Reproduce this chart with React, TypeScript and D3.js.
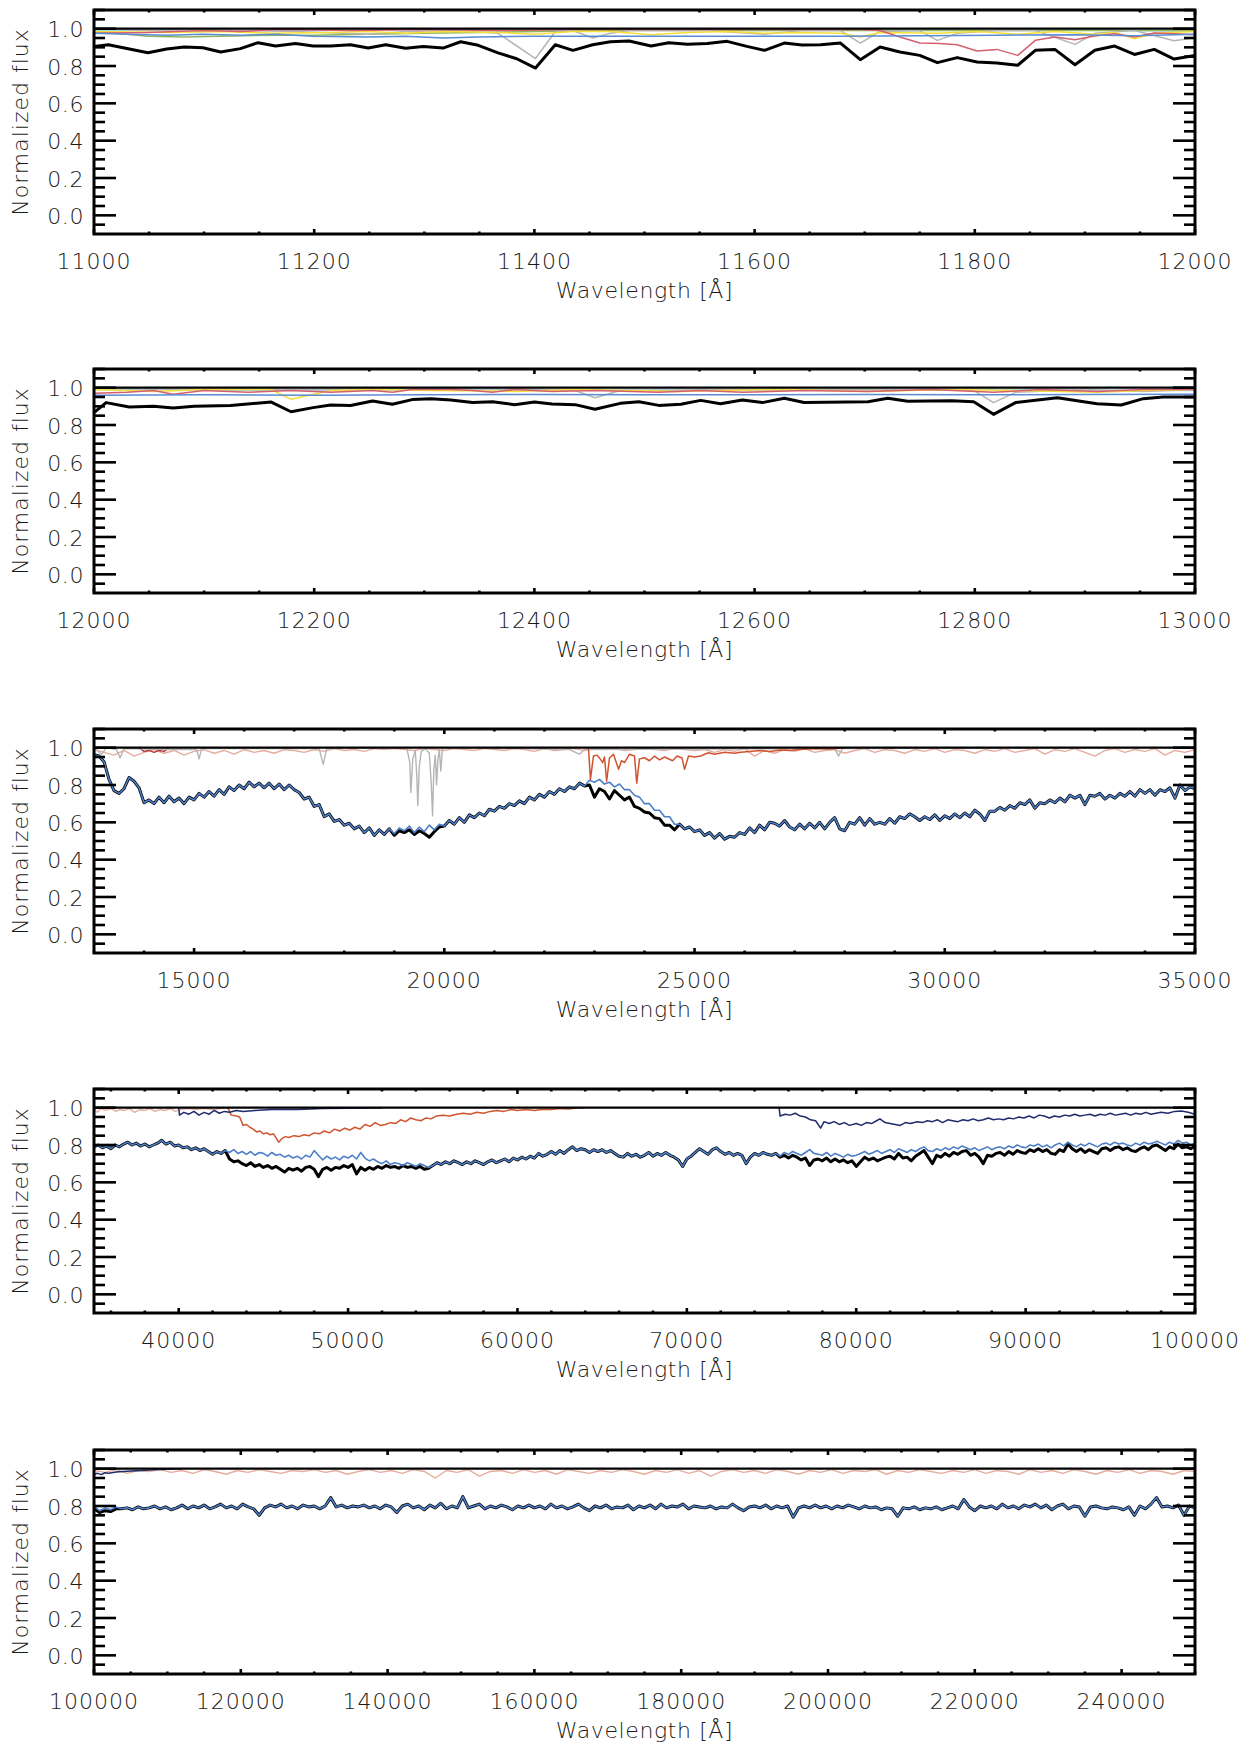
import React from "react";
import * as d3 from "d3";

type Pt = [number, number];

// ---------- panel 1 : 11000 - 12000 A ----------
const p1Black: Pt[] = [
  [11000, 0.905], [11013, 0.914], [11049, 0.871], [11066, 0.891], [11082, 0.902], [11099, 0.898],
  [11115, 0.875], [11133, 0.893], [11149, 0.925], [11165, 0.907], [11183, 0.92], [11199, 0.907],
  [11215, 0.907], [11233, 0.914], [11249, 0.896], [11265, 0.914], [11283, 0.895], [11299, 0.905],
  [11317, 0.896], [11333, 0.93], [11349, 0.911], [11367, 0.87], [11384, 0.839], [11401, 0.789],
  [11419, 0.914], [11435, 0.884], [11453, 0.914], [11469, 0.93], [11486, 0.934], [11506, 0.907],
  [11522, 0.925], [11539, 0.916], [11557, 0.92], [11575, 0.932], [11593, 0.905], [11609, 0.884],
  [11627, 0.923], [11643, 0.913], [11660, 0.914], [11678, 0.923], [11696, 0.834], [11714, 0.902],
  [11732, 0.875], [11750, 0.857], [11766, 0.818], [11784, 0.845], [11802, 0.821], [11820, 0.816],
  [11839, 0.804], [11855, 0.884], [11873, 0.888], [11891, 0.807], [11909, 0.884], [11927, 0.907],
  [11945, 0.862], [11963, 0.889], [11981, 0.837], [12000, 0.857],
];
const p1Gray: Pt[] = [
  [11000, 1.0], [11050, 0.99], [11100, 0.985], [11133, 0.99], [11183, 0.985], [11249, 0.97],
  [11283, 0.985], [11333, 0.99], [11367, 0.975], [11401, 0.84], [11419, 0.985], [11435, 0.99],
  [11453, 0.95], [11469, 0.975], [11486, 0.99], [11557, 0.99], [11609, 0.97], [11643, 0.99],
  [11678, 0.99], [11696, 0.923], [11714, 0.985], [11750, 0.99], [11766, 0.9375], [11784, 0.975],
  [11820, 0.99], [11855, 0.99], [11891, 0.916], [11909, 0.975], [11945, 0.99], [11981, 0.935],
  [12000, 0.952],
];
const p1Yellow: Pt[] = [
  [11000, 0.985], [11066, 0.98], [11115, 0.985], [11165, 0.975], [11215, 0.98], [11249, 0.985],
  [11283, 0.975], [11317, 0.985], [11367, 0.98], [11401, 0.97], [11435, 0.985], [11469, 0.985],
  [11506, 0.968], [11539, 0.98], [11575, 0.985], [11609, 0.975], [11643, 0.98], [11678, 0.975],
  [11696, 0.955], [11714, 0.98], [11766, 0.975], [11802, 0.985], [11839, 0.97], [11873, 0.985],
  [11909, 0.97], [11927, 0.98], [11945, 0.946], [11963, 0.975], [12000, 0.985],
];
const p1Red: Pt[] = [
  [11000, 0.975], [11049, 0.98], [11099, 0.99], [11133, 0.985], [11165, 0.995], [11233, 0.99],
  [11299, 0.995], [11367, 0.99], [11435, 0.995], [11506, 0.995], [11575, 0.995], [11643, 0.995],
  [11696, 0.995], [11714, 0.99], [11732, 0.955], [11750, 0.923], [11768, 0.92], [11784, 0.914],
  [11802, 0.88], [11820, 0.889], [11839, 0.857], [11855, 0.9375], [11873, 0.955], [11891, 0.941],
  [11909, 0.961], [11927, 0.973], [11945, 0.955], [11963, 0.977], [11981, 0.973], [12000, 0.968],
];
const p1Blue: Pt[] = [
  [11000, 0.975], [11030, 0.97], [11066, 0.965], [11099, 0.97], [11133, 0.965], [11165, 0.97],
  [11199, 0.96], [11249, 0.955], [11283, 0.96], [11317, 0.95], [11349, 0.955], [11401, 0.96],
  [11469, 0.96], [11539, 0.96], [11609, 0.96], [11678, 0.96], [11750, 0.962], [11820, 0.965],
  [11891, 0.968], [11945, 0.962], [12000, 0.97],
];
const p1Green: Pt[] = [
  [11000, 0.985], [11020, 0.975], [11049, 0.96], [11082, 0.955], [11115, 0.96], [11165, 0.965],
  [11199, 0.965], [11249, 0.97], [11299, 0.975], [11349, 0.98], [11401, 0.985], [11469, 0.99],
  [11575, 0.99], [11700, 0.99], [11850, 0.99], [12000, 0.99],
];
const p1Cyan: Pt[] = [
  [11000, 0.99], [11100, 0.995], [11200, 0.99], [11300, 0.995], [11400, 0.99], [11500, 0.995],
  [11600, 0.99], [11700, 0.995], [11800, 0.99], [11900, 0.995], [12000, 0.985],
];

// ---------- panel 2 : 12000 - 13000 A ----------
const p2Black: Pt[] = [
  [12000, 0.866], [12011, 0.92], [12032, 0.896], [12054, 0.9], [12072, 0.891], [12091, 0.9],
  [12124, 0.905], [12161, 0.923], [12179, 0.871], [12199, 0.893], [12215, 0.907], [12233, 0.904],
  [12253, 0.929], [12271, 0.911], [12289, 0.936], [12306, 0.941], [12324, 0.934], [12344, 0.92],
  [12362, 0.925], [12382, 0.909], [12400, 0.923], [12416, 0.913], [12437, 0.909], [12455, 0.884],
  [12478, 0.916], [12495, 0.925], [12513, 0.905], [12533, 0.911], [12551, 0.932], [12569, 0.914],
  [12589, 0.934], [12607, 0.92], [12627, 0.943], [12645, 0.921], [12703, 0.925], [12721, 0.943],
  [12739, 0.927], [12779, 0.93], [12799, 0.925], [12817, 0.857], [12837, 0.92], [12875, 0.946],
  [12911, 0.914], [12933, 0.907], [12953, 0.941], [12971, 0.95], [13000, 0.95],
];
const p2Red: Pt[] = [
  [12000, 0.97], [12030, 0.975], [12054, 0.985], [12072, 0.965], [12100, 0.985], [12140, 0.975],
  [12179, 0.985], [12215, 0.975], [12253, 0.985], [12271, 0.975], [12289, 0.99], [12324, 0.99],
  [12344, 0.985], [12362, 0.975], [12382, 0.99], [12416, 0.98], [12455, 0.985], [12513, 0.975],
  [12551, 0.985], [12589, 0.975], [12645, 0.985], [12703, 0.98], [12760, 0.99], [12817, 0.975],
  [12860, 0.99], [12911, 0.98], [12953, 0.99], [13000, 0.99],
];
const p2Yellow: Pt[] = [
  [12000, 0.99], [12054, 0.98], [12100, 0.99], [12161, 0.99], [12179, 0.9375], [12215, 0.985],
  [12253, 0.99], [12306, 0.985], [12382, 0.98], [12437, 0.99], [12533, 0.98], [12569, 0.985],
  [12627, 0.99], [12703, 0.98], [12779, 0.99], [12837, 0.985], [12911, 0.975], [12953, 0.985],
  [13000, 0.99],
];
const p2Gray: Pt[] = [
  [12000, 0.995], [12100, 0.99], [12200, 0.99], [12300, 0.995], [12400, 0.99], [12437, 0.985],
  [12455, 0.946], [12478, 0.985], [12600, 0.99], [12700, 0.99], [12799, 0.985], [12817, 0.92],
  [12837, 0.975], [12900, 0.99], [12953, 0.98], [13000, 0.99],
];
const p2Blue: Pt[] = [
  [12000, 0.96], [12100, 0.962], [12200, 0.96], [12300, 0.962], [12400, 0.963], [12500, 0.962],
  [12600, 0.962], [12700, 0.963], [12800, 0.962], [12900, 0.963], [13000, 0.965],
];
const p2Cyan: Pt[] = [
  [12000, 0.99], [12200, 0.985], [12400, 0.99], [12600, 0.985], [12800, 0.99], [13000, 0.985],
];

// ---------- panel 3 : 13000 - 35000 A (grid 100 A) ----------
const p3Start = 13000;
const p3Step = 100;
const p3Model = [
  0.962, 0.955, 0.925, 0.83, 0.77, 0.755, 0.78, 0.84, 0.82, 0.785,
  0.705, 0.72, 0.7, 0.735, 0.705, 0.74, 0.71, 0.73, 0.7, 0.735,
  0.72, 0.755, 0.735, 0.765, 0.74, 0.775, 0.75, 0.79, 0.77, 0.8,
  0.78, 0.815, 0.79, 0.81, 0.785, 0.81, 0.78, 0.805, 0.775, 0.8,
  0.775, 0.76, 0.725, 0.735, 0.685, 0.695, 0.63, 0.645, 0.605, 0.615,
  0.585, 0.595, 0.565, 0.58, 0.545, 0.57, 0.53, 0.56, 0.535, 0.565,
  0.54, 0.57, 0.555, 0.58, 0.545, 0.575, 0.55, 0.585, 0.56, 0.59,
  0.58, 0.61, 0.59, 0.625, 0.6, 0.64, 0.625, 0.65, 0.635, 0.67,
  0.66, 0.685, 0.675, 0.7, 0.69, 0.715, 0.7, 0.735, 0.72, 0.75,
  0.735, 0.765, 0.75, 0.78, 0.765, 0.79, 0.78, 0.81, 0.795, 0.825,
  0.815, 0.83, 0.805, 0.815, 0.79, 0.805, 0.775, 0.775, 0.745, 0.735,
  0.7, 0.7, 0.665, 0.665, 0.63, 0.63, 0.59, 0.59, 0.565, 0.575,
  0.55, 0.56, 0.53, 0.545, 0.515, 0.54, 0.51, 0.525, 0.52, 0.545,
  0.535, 0.57, 0.545, 0.585, 0.56, 0.6, 0.595, 0.58, 0.61, 0.575,
  0.56, 0.59, 0.565, 0.595, 0.57, 0.6, 0.565, 0.6, 0.625, 0.565,
  0.555, 0.6, 0.59, 0.625, 0.585, 0.62, 0.59, 0.6, 0.59, 0.62,
  0.595, 0.63, 0.62, 0.645, 0.63, 0.61, 0.63, 0.615, 0.64, 0.61,
  0.635, 0.62, 0.645, 0.625, 0.65, 0.63, 0.665, 0.645, 0.61, 0.66,
  0.66, 0.68, 0.665, 0.69, 0.675, 0.705, 0.695, 0.72, 0.675, 0.705,
  0.7, 0.72, 0.705, 0.73, 0.71, 0.745, 0.73, 0.745, 0.695, 0.745,
  0.74, 0.755, 0.725, 0.745, 0.73, 0.755, 0.74, 0.765, 0.74, 0.775,
  0.755, 0.775, 0.745, 0.775, 0.765, 0.785, 0.73, 0.8, 0.77, 0.79,
  0.78,
];
// stretches where the observed (black) spectrum departs from the model
const p3BlackA = { from: 19000, values: [0.53, 0.555, 0.545, 0.56, 0.535, 0.555, 0.54, 0.52, 0.55, 0.575] };
const p3BlackB = {
  from: 22800,
  values: [0.795, 0.8, 0.735, 0.78, 0.765, 0.725, 0.77, 0.745, 0.72, 0.735, 0.685, 0.675, 0.655, 0.65, 0.625, 0.62, 0.585, 0.585, 0.56],
};
const p3PinkStep = 200;
const p3Pink = [
  0.99, 0.975, 0.96, 0.985, 0.955, 0.975, 0.99, 0.97, 0.985, 0.96,
  0.98, 0.99, 0.97, 0.985, 0.965, 0.99, 0.975, 0.985, 0.97, 0.99,
  0.985, 0.975, 0.99, 0.98, 0.995, 0.985, 0.99, 0.98, 0.995, 0.99,
  0.995, 0.99, 0.985, 0.995, 0.99, 0.985, 0.995, 0.99, 0.985, 0.995,
  0.99, 0.985, 0.995, 0.99, 0.98, 0.995, 0.985, 0.99, 0.995, 0.985,
  0.995, 0.99, 0.995, 0.985, 0.99, 0.995, 0.99, 0.985, 0.995, 0.99,
  0.985, 0.99, 0.975, 0.99, 0.98, 0.995, 0.955, 0.985, 0.97, 0.99,
  0.98, 0.995, 0.975, 0.985, 0.99, 0.97, 0.985, 0.995, 0.975, 0.99,
  0.985, 0.97, 0.99, 0.98, 0.995, 0.975, 0.99, 0.985, 0.97, 0.99,
  0.98, 0.995, 0.975, 0.985, 0.995, 0.965, 0.99, 0.98, 0.995, 0.975,
  0.955, 0.985, 0.995, 0.975, 0.99, 0.98, 0.995, 0.96, 0.985, 0.975,
  0.99,
];
const p3Gray: Pt[] = [
  [13000, 1.0], [13150, 0.965], [13250, 1.0], [13450, 0.99], [13520, 0.945], [13600, 0.995],
  [14500, 0.99], [15050, 0.99], [15100, 0.94], [15150, 0.995], [17500, 0.995], [17580, 0.91],
  [17650, 0.995], [19250, 1.0], [19310, 0.92], [19330, 0.76], [19370, 0.94], [19420, 0.985],
  [19450, 0.85], [19470, 0.69], [19500, 0.9], [19540, 0.98], [19620, 0.995], [19700, 0.97],
  [19740, 0.8], [19765, 0.635], [19790, 0.88], [19820, 0.96], [19845, 0.8], [19870, 0.93],
  [19900, 0.99], [19930, 0.875], [19960, 0.99], [20000, 1.0], [21500, 0.995], [22500, 0.99],
  [22700, 0.965], [22800, 0.99], [27800, 0.995], [27880, 0.955], [27950, 0.995], [35000, 1.0],
];
const p3Orange: Pt[] = [
  [22880, 1.0], [22920, 0.83], [22980, 0.955], [23050, 0.96], [23100, 0.945], [23165, 0.92],
  [23200, 0.95], [23244, 0.82], [23300, 0.945], [23380, 0.965], [23482, 0.884], [23540, 0.93],
  [23600, 0.92], [23700, 0.965], [23800, 0.955], [23845, 0.81], [23900, 0.94], [24000, 0.946],
  [24100, 0.93], [24200, 0.955], [24300, 0.935], [24400, 0.95], [24562, 0.93], [24650, 0.955],
  [24750, 0.945], [24800, 0.884], [24880, 0.955], [25000, 0.95], [25120, 0.955], [25200, 0.965],
  [25279, 0.973], [25400, 0.965], [25600, 0.975], [25800, 0.97], [25916, 0.975], [26100, 0.98],
  [26300, 0.985], [26500, 0.98], [26713, 0.9875], [26900, 0.985], [27112, 0.99], [27400, 0.995],
  [27700, 0.993], [28000, 1.0],
];
const p3DarkRed: Pt[] = [
  [13900, 1.0], [14000, 0.98], [14100, 0.985], [14200, 0.975], [14300, 0.985], [14400, 0.98], [14500, 1.0],
];

// ---------- panel 4 : 35000 - 100000 A (grid 250 A) ----------
const p4Start = 35000;
const p4Step = 250;
const p4Model = [
  0.79, 0.8, 0.785, 0.795, 0.78, 0.8, 0.79, 0.805, 0.815, 0.8, 0.81, 0.795,
  0.805, 0.79, 0.8, 0.81, 0.825, 0.805, 0.815, 0.795, 0.8, 0.785, 0.79, 0.775,
  0.785, 0.77, 0.78, 0.765, 0.75, 0.765, 0.755, 0.77, 0.76, 0.775, 0.755, 0.765,
  0.75, 0.765, 0.745, 0.76, 0.755, 0.74, 0.76, 0.745, 0.75, 0.735, 0.745, 0.73,
  0.74, 0.725, 0.745, 0.735, 0.77, 0.745, 0.72, 0.74, 0.725, 0.735, 0.72, 0.74,
  0.73, 0.745, 0.725, 0.76, 0.73, 0.715, 0.725, 0.71, 0.7, 0.715, 0.695, 0.705,
  0.7, 0.69, 0.705, 0.695, 0.685, 0.7, 0.69, 0.68, 0.69, 0.705, 0.695, 0.71,
  0.7, 0.715, 0.705, 0.695, 0.71, 0.7, 0.715, 0.705, 0.695, 0.71, 0.72, 0.705,
  0.715, 0.725, 0.71, 0.73, 0.72, 0.735, 0.725, 0.74, 0.73, 0.755, 0.74, 0.75,
  0.765, 0.75, 0.77, 0.755, 0.775, 0.79, 0.77, 0.78, 0.775, 0.76, 0.775, 0.765,
  0.775, 0.76, 0.77, 0.755, 0.74, 0.735, 0.755, 0.74, 0.75, 0.735, 0.745, 0.76,
  0.74, 0.755, 0.745, 0.76, 0.745, 0.735, 0.72, 0.685, 0.725, 0.74, 0.76, 0.78,
  0.765, 0.75, 0.775, 0.785, 0.765, 0.75, 0.76, 0.745, 0.755, 0.745, 0.7, 0.735,
  0.755, 0.745, 0.76, 0.75, 0.745, 0.755, 0.74, 0.76, 0.75, 0.765, 0.755, 0.745,
  0.76, 0.775, 0.755, 0.75, 0.745, 0.76, 0.74, 0.755, 0.745, 0.735, 0.75, 0.74,
  0.745, 0.755, 0.765, 0.75, 0.76, 0.77, 0.755, 0.765, 0.775, 0.76, 0.78, 0.77,
  0.76, 0.775, 0.765, 0.78, 0.79, 0.77, 0.765, 0.78, 0.77, 0.785, 0.775, 0.79,
  0.78, 0.795, 0.785, 0.775, 0.785, 0.77, 0.78, 0.79, 0.775, 0.785, 0.79, 0.78,
  0.795, 0.785, 0.8, 0.79, 0.785, 0.8, 0.795, 0.805, 0.79, 0.8, 0.785, 0.8,
  0.81, 0.795, 0.815, 0.8, 0.79, 0.805, 0.795, 0.81, 0.8, 0.79, 0.805, 0.81,
  0.8, 0.815, 0.805, 0.81, 0.8, 0.795, 0.81, 0.8, 0.815, 0.805, 0.81, 0.82,
  0.81, 0.8, 0.815, 0.805, 0.825, 0.81, 0.815, 0.8, 0.81,
];
const p4BlackA = {
  from: 43000,
  values: [
    0.725, 0.71, 0.715, 0.7, 0.69, 0.705, 0.685, 0.695, 0.68, 0.69, 0.675, 0.685,
    0.67, 0.655, 0.675, 0.665, 0.675, 0.66, 0.68, 0.685, 0.67, 0.63, 0.67, 0.68,
    0.665, 0.68, 0.675, 0.69, 0.68, 0.695, 0.645, 0.68, 0.665, 0.68, 0.67, 0.685,
    0.675, 0.69, 0.68, 0.685, 0.675, 0.69, 0.68, 0.685, 0.675, 0.685, 0.67, 0.675,
    0.69,
  ],
};
const p4BlackB = {
  from: 75500,
  values: [
    0.735, 0.745, 0.73, 0.745, 0.735, 0.72, 0.73, 0.69, 0.72, 0.725, 0.715, 0.73,
    0.71, 0.725, 0.71, 0.72, 0.705, 0.715, 0.685, 0.71, 0.735, 0.72, 0.73, 0.715,
    0.725, 0.735, 0.74, 0.725, 0.755, 0.73, 0.735, 0.715, 0.74, 0.755, 0.77, 0.735,
    0.7, 0.745, 0.735, 0.755, 0.74, 0.76, 0.75, 0.765, 0.77, 0.745, 0.755, 0.735,
    0.7, 0.745, 0.74, 0.755, 0.76, 0.745, 0.765, 0.75, 0.77, 0.76, 0.755, 0.775,
    0.765, 0.78, 0.765, 0.775, 0.755, 0.75, 0.775, 0.765, 0.805, 0.78, 0.765, 0.78,
    0.76, 0.775, 0.765, 0.755, 0.78, 0.785, 0.77, 0.785, 0.79, 0.775, 0.785, 0.77,
    0.765, 0.78, 0.79, 0.775, 0.795, 0.8, 0.785, 0.77, 0.79, 0.78, 0.805, 0.785,
    0.79, 0.78, 0.795,
  ],
};
const p4Pink: Pt[] = [
  [35000, 0.99], [35200, 0.975], [35400, 0.995], [35700, 0.985], [36000, 0.995], [36300, 0.98],
  [36500, 0.99], [36800, 0.985], [37100, 0.995], [37400, 0.975], [37700, 0.99], [38000, 0.985],
  [38300, 0.995], [38600, 0.98], [38900, 0.99], [39200, 0.985], [39500, 0.995], [39800, 0.98],
  [40100, 0.99], [40500, 0.995], [41000, 0.99], [41500, 0.995], [42000, 0.99], [42500, 0.995],
  [43000, 1.0],
];
const p4NavyA: Pt[] = [
  [40000, 1.0], [40050, 0.96], [40300, 0.975], [40600, 0.965], [40900, 0.98], [41200, 0.96],
  [41500, 0.975], [41800, 0.965], [42100, 0.985], [42400, 0.97], [42700, 0.98], [43000, 0.975],
  [43400, 0.985], [43800, 0.98], [44500, 0.985], [45500, 0.99], [47000, 0.99], [48500, 0.995],
  [50000, 0.997], [52000, 1.0],
];
const p4NavyB: Pt[] = [
  [75450, 1.0], [75500, 0.955], [75800, 0.965], [76100, 0.96], [76400, 0.97], [76700, 0.955],
  [77000, 0.95], [77300, 0.935], [77600, 0.93], [77900, 0.89], [78100, 0.925], [78400, 0.915],
  [78700, 0.925], [79000, 0.91], [79300, 0.92], [79600, 0.905], [80000, 0.915], [80300, 0.905],
  [80600, 0.92], [80900, 0.915], [81200, 0.93], [81400, 0.94], [81700, 0.92], [82000, 0.915],
  [82300, 0.91], [82600, 0.905], [82900, 0.92], [83200, 0.915], [83600, 0.925], [83900, 0.92],
  [84200, 0.93], [84500, 0.925], [84800, 0.935], [85100, 0.92], [85400, 0.935], [85700, 0.93],
  [86000, 0.925], [86300, 0.935], [86600, 0.93], [86900, 0.94], [87200, 0.93], [87500, 0.935],
  [87800, 0.945], [88100, 0.935], [88400, 0.94], [88700, 0.935], [89000, 0.945], [89300, 0.94],
  [89600, 0.95], [89900, 0.945], [90200, 0.955], [90500, 0.945], [90800, 0.96], [91100, 0.955],
  [91400, 0.945], [91700, 0.955], [92000, 0.95], [92300, 0.96], [92600, 0.955], [92900, 0.965],
  [93200, 0.955], [93500, 0.96], [93800, 0.965], [94100, 0.955], [94400, 0.965], [94700, 0.96],
  [95000, 0.97], [95300, 0.96], [95600, 0.965], [95900, 0.97], [96200, 0.96], [96500, 0.97],
  [96800, 0.965], [97100, 0.975], [97400, 0.965], [97700, 0.97], [98000, 0.975], [98400, 0.97],
  [98800, 0.98], [99200, 0.982], [99600, 0.975], [100000, 0.965],
];
const p4Orange: Pt[] = [
  [42900, 1.0], [43100, 0.96], [43400, 0.955], [43600, 0.95], [43800, 0.905], [44000, 0.91],
  [44200, 0.895], [44400, 0.885], [44600, 0.87], [44800, 0.875], [45000, 0.86], [45200, 0.865],
  [45400, 0.855], [45600, 0.86], [45800, 0.83], [45900, 0.815], [46100, 0.835], [46300, 0.845],
  [46500, 0.84], [46800, 0.85], [47100, 0.845], [47400, 0.855], [47700, 0.85], [48000, 0.865],
  [48300, 0.86], [48600, 0.875], [48900, 0.865], [49200, 0.885], [49500, 0.875], [49800, 0.89],
  [50100, 0.88], [50400, 0.895], [50700, 0.885], [51000, 0.91], [51300, 0.9], [51600, 0.92],
  [51900, 0.905], [52200, 0.91], [52500, 0.92], [52800, 0.915], [53100, 0.935], [53400, 0.925],
  [53700, 0.945], [54000, 0.935], [54300, 0.93], [54600, 0.945], [54900, 0.94], [55200, 0.955],
  [55600, 0.96], [56000, 0.955], [56400, 0.965], [56800, 0.97], [57200, 0.965], [57600, 0.975],
  [58000, 0.97], [58400, 0.98], [58800, 0.985], [59200, 0.98], [59600, 0.99], [60000, 0.985],
  [60500, 0.99], [61000, 0.985], [61500, 0.992], [62000, 0.99], [62500, 0.995], [63000, 0.993],
  [63500, 0.998], [64000, 1.0],
];

// ---------- panel 5 : 100000 - 250000 A (grid 750 A) ----------
const p5Start = 100000;
const p5Step = 750;
const p5Model = [
  0.8, 0.775, 0.79, 0.78, 0.795, 0.785, 0.79, 0.78, 0.795, 0.785,
  0.79, 0.8, 0.785, 0.795, 0.78, 0.79, 0.805, 0.785, 0.8, 0.79,
  0.805, 0.785, 0.795, 0.81, 0.79, 0.8, 0.785, 0.81, 0.795, 0.785,
  0.75, 0.79, 0.805, 0.795, 0.81, 0.79, 0.8, 0.785, 0.805, 0.795,
  0.8, 0.785, 0.8, 0.845, 0.795, 0.805, 0.79, 0.8, 0.795, 0.805,
  0.79, 0.8, 0.785, 0.805, 0.795, 0.765, 0.8, 0.81, 0.79, 0.8,
  0.78, 0.805, 0.79, 0.815, 0.785, 0.8, 0.79, 0.85, 0.79, 0.8,
  0.81, 0.785, 0.8, 0.79, 0.805, 0.795, 0.78, 0.8, 0.79, 0.805,
  0.79, 0.8, 0.785, 0.81, 0.79, 0.8, 0.785, 0.795, 0.81, 0.79,
  0.775, 0.8, 0.79, 0.805, 0.785, 0.795, 0.79, 0.805, 0.78, 0.8,
  0.79, 0.805, 0.785, 0.81, 0.79, 0.8, 0.795, 0.81, 0.785, 0.8,
  0.795, 0.79, 0.8, 0.785, 0.795, 0.79, 0.81, 0.79, 0.775, 0.795,
  0.8, 0.79, 0.805, 0.785, 0.8, 0.79, 0.8, 0.74, 0.79, 0.8,
  0.79, 0.805, 0.79, 0.8, 0.785, 0.8, 0.79, 0.805, 0.795, 0.785,
  0.8, 0.79, 0.795, 0.78, 0.79, 0.785, 0.745, 0.79, 0.785, 0.795,
  0.78, 0.79, 0.785, 0.795, 0.78, 0.79, 0.8, 0.785, 0.835, 0.795,
  0.775, 0.8, 0.79, 0.8, 0.785, 0.81, 0.79, 0.8, 0.785, 0.805,
  0.795, 0.81, 0.79, 0.805, 0.78, 0.8, 0.81, 0.785, 0.8, 0.795,
  0.745, 0.795, 0.8, 0.79, 0.785, 0.795, 0.79, 0.78, 0.795, 0.75,
  0.8, 0.785, 0.81, 0.845, 0.795, 0.8, 0.79, 0.805, 0.75, 0.8,
  0.79,
];
const p5BlackA = { from: 100000, values: [0.785, 0.765, 0.775, 0.77, 0.785] };
const p5PinkStep = 1500;
const p5Pink = [
  0.99, 0.98, 0.995, 0.975, 0.99, 0.985, 0.995, 0.98, 0.99, 0.975,
  0.995, 0.985, 0.97, 0.99, 0.98, 0.995, 0.985, 0.975, 0.99, 0.985,
  0.995, 0.98, 0.99, 0.97, 0.985, 0.995, 0.98, 0.99, 0.975, 0.995,
  0.985, 0.95, 0.99, 0.98, 0.995, 0.96, 0.985, 0.99, 0.975, 0.995,
  0.98, 0.99, 0.97, 0.995, 0.985, 0.975, 0.99, 0.98, 0.995, 0.985,
  0.97, 0.99, 0.98, 0.995, 0.975, 0.99, 0.96, 0.985, 0.995, 0.98,
  0.99, 0.975, 0.995, 0.985, 0.97, 0.99, 0.98, 0.995, 0.975, 0.99,
  0.985, 0.995, 0.97, 0.99, 0.98, 0.995, 0.985, 0.975, 0.99, 0.98,
  0.995, 0.975, 0.99, 0.985, 0.97, 0.995, 0.98, 0.99, 0.975, 0.995,
  0.985, 0.97, 0.99, 0.98, 0.995, 0.975, 0.99, 0.985, 0.97, 0.99,
  0.985,
];
const p5Navy: Pt[] = [
  [100000, 0.97], [100500, 0.975], [101000, 0.968], [101500, 0.978], [102000, 0.975], [103000, 0.982],
  [104000, 0.985], [105000, 0.988], [106500, 0.99], [108000, 0.994], [110000, 0.997], [112000, 1.0],
];

const unity = 1.0;
const yTickLabels = ["0.0", "0.2", "0.4", "0.6", "0.8", "1.0"];

// ---------- helpers ----------
const grid = (start: number, step: number, values: number[]): Pt[] =>
  values.map((v, i) => [start + i * step, v] as Pt);

const patched = (base: Pt[], step: number, patches: { from: number; values: number[] }[]): Pt[] =>
  base.map(([w, v]) => {
    for (const p of patches) {
      const i = Math.round((w - p.from) / step);
      if (i >= 0 && i < p.values.length) return [w, p.values[i]] as Pt;
    }
    return [w, v] as Pt;
  });

const C = {
  black: "#000000",
  model: "#4d7fc9",
  pink: "#e6ad9f",
  gray: "#b5b5b5",
  orange: "#d0542f",
  navy: "#1f2b6c",
  darkred: "#b53434",
  red: "#d4606e",
  yellow: "#f5de3a",
  green: "#8fb85c",
  cyan: "#9fd6f0",
  blue: "#5a8bd3",
};

interface Series { pts: Pt[]; color: string; w: number }
interface PanelDef { domain: [number, number]; major: number; minor: number; under: Series[]; over: Series[] }

const p3ModelPts = grid(p3Start, p3Step, p3Model);
const p4ModelPts = grid(p4Start, p4Step, p4Model);
const p5ModelPts = grid(p5Start, p5Step, p5Model);

const panels: PanelDef[] = [
  {
    domain: [11000, 12000], major: 200, minor: 50,
    under: [
      { pts: p1Cyan, color: C.cyan, w: 1.5 },
      { pts: p1Green, color: C.green, w: 1.5 },
      { pts: p1Gray, color: C.gray, w: 1.5 },
      { pts: p1Yellow, color: C.yellow, w: 1.5 },
      { pts: p1Red, color: C.red, w: 1.5 },
      { pts: p1Blue, color: C.blue, w: 1.5 },
    ],
    over: [{ pts: p1Black, color: C.black, w: 3 }],
  },
  {
    domain: [12000, 13000], major: 200, minor: 50,
    under: [
      { pts: p2Cyan, color: C.cyan, w: 1.5 },
      { pts: p2Gray, color: C.gray, w: 1.5 },
      { pts: p2Yellow, color: C.yellow, w: 1.5 },
      { pts: p2Red, color: C.red, w: 1.5 },
      { pts: p2Blue, color: C.blue, w: 1.5 },
    ],
    over: [{ pts: p2Black, color: C.black, w: 3 }],
  },
  {
    domain: [13000, 35000], major: 5000, minor: 1000,
    under: [
      { pts: grid(p3Start, p3PinkStep, p3Pink), color: C.pink, w: 1.4 },
      { pts: p3DarkRed, color: C.darkred, w: 1.4 },
      { pts: p3Gray, color: C.gray, w: 1.4 },
      { pts: p3Orange, color: C.orange, w: 1.5 },
    ],
    over: [
      { pts: patched(p3ModelPts, p3Step, [p3BlackA, p3BlackB]), color: C.black, w: 3 },
      { pts: p3ModelPts, color: C.model, w: 1.6 },
    ],
  },
  {
    domain: [35000, 100000], major: 10000, minor: 2000,
    under: [
      { pts: p4Pink, color: C.pink, w: 1.4 },
      { pts: p4Orange, color: C.orange, w: 1.5 },
      { pts: p4NavyA, color: C.navy, w: 1.5 },
      { pts: p4NavyB, color: C.navy, w: 1.5 },
    ],
    over: [
      { pts: patched(p4ModelPts, p4Step, [p4BlackA, p4BlackB]), color: C.black, w: 3 },
      { pts: p4ModelPts, color: C.model, w: 1.6 },
    ],
  },
  {
    domain: [100000, 250000], major: 20000, minor: 5000,
    under: [
      { pts: grid(p5Start, p5PinkStep, p5Pink), color: C.pink, w: 1.4 },
      { pts: p5Navy, color: C.navy, w: 1.5 },
    ],
    over: [
      { pts: patched(p5ModelPts, p5Step, [p5BlackA]), color: C.black, w: 3 },
      { pts: p5ModelPts, color: C.model, w: 1.6 },
    ],
  },
];

// ---------- layout ----------
const W = 1245;
const H = 1749;
const left = 94;
const right = 1195;
const plotH = 224;
const tops = [10, 369, 729, 1089, 1450];
const font = "'DejaVu Sans', Verdana, sans-serif";
const ink = "#1a1a1a";

function Panel({ def, top, idx }: { def: PanelDef; top: number; idx: number }) {
  const bottom = top + plotH;
  const x = d3.scaleLinear().domain(def.domain).range([left, right]);
  const y = d3.scaleLinear().domain([-0.1, 1.1]).range([bottom, top]);
  const line = d3.line<Pt>().x((d) => x(d[0])).y((d) => y(d[1]));

  const [d0, d1] = def.domain;
  const majorX = d3.range(Math.ceil(d0 / def.major) * def.major, d1 + 1, def.major);
  const minorX = d3
    .range(Math.ceil(d0 / def.minor) * def.minor, d1 + 1, def.minor)
    .filter((v) => v % def.major !== 0);
  const majorY = d3.range(0, 6).map((i) => i * 0.2);
  const minorY = d3.range(-1, 23).map((i) => i * 0.05).filter((v, i) => (i - 1) % 4 !== 0 || v < 0);
  const clipId = `clip-${idx}`;
  const fmt = d3.format("d");

  return (
    <g>
      <defs>
        <clipPath id={clipId}>
          <rect x={left} y={top} width={right - left} height={plotH} />
        </clipPath>
      </defs>
      <g clipPath={`url(#${clipId})`} fill="none" strokeLinejoin="round">
        {def.under.map((s, i) => (
          <path key={"u" + i} d={line(s.pts) ?? ""} stroke={s.color} strokeWidth={s.w} />
        ))}
        <path d={line([[d0, unity], [d1, unity]]) ?? ""} stroke="#000" strokeWidth={2.4} />
        {def.over.map((s, i) => (
          <path key={"o" + i} d={line(s.pts) ?? ""} stroke={s.color} strokeWidth={s.w} />
        ))}
      </g>

      {/* ticks on all four sides, pointing inward */}
      <g stroke="#000" strokeWidth={2.6}>
        {majorY.map((v) => (
          <g key={"my" + v}>
            <line x1={left} x2={left + 22} y1={y(v)} y2={y(v)} />
            <line x1={right} x2={right - 22} y1={y(v)} y2={y(v)} />
          </g>
        ))}
        {minorY.map((v) => (
          <g key={"ny" + v}>
            <line x1={left} x2={left + 11} y1={y(v)} y2={y(v)} />
            <line x1={right} x2={right - 11} y1={y(v)} y2={y(v)} />
          </g>
        ))}
        {majorX.map((v) => (
          <g key={"mx" + v}>
            <line x1={x(v)} x2={x(v)} y1={bottom} y2={bottom - 5} />
            <line x1={x(v)} x2={x(v)} y1={top} y2={top + 5} />
          </g>
        ))}
        {minorX.map((v) => (
          <g key={"nx" + v}>
            <line x1={x(v)} x2={x(v)} y1={bottom} y2={bottom - 2.5} />
            <line x1={x(v)} x2={x(v)} y1={top} y2={top + 2.5} />
          </g>
        ))}
      </g>
      <rect x={left} y={top} width={right - left} height={plotH} fill="none" stroke="#000" strokeWidth={3} />

      <g fontFamily={font} fontSize={22} fontWeight={200} fill={ink}>
        {majorY.map((v, i) => (
          <text key={"ly" + i} x={left - 10} y={y(v) + 8.5} textAnchor="end" letterSpacing={0.6}>
            {yTickLabels[i]}
          </text>
        ))}
        {majorX.map((v) => (
          <text key={"lx" + v} x={x(v)} y={bottom + 35} textAnchor="middle" letterSpacing={1}>
            {fmt(v)}
          </text>
        ))}
        <text x={(left + right) / 2} y={bottom + 64} textAnchor="middle" fontSize={22} letterSpacing={0.6}>
          Wavelength [Å]
        </text>
        <text
          transform={`translate(28,${(top + bottom) / 2}) rotate(-90)`}
          textAnchor="middle"
          fontSize={22}
          letterSpacing={1}
        >
          Normalized flux
        </text>
      </g>
    </g>
  );
}

export default function App() {
  return (
    <svg
      width={W}
      height={H}
      viewBox={`0 0 ${W} ${H}`}
      style={{ position: "absolute", left: 0, top: 0, background: "#fff" }}
    >
      <rect width={W} height={H} fill="#fff" />
      {panels.map((p, i) => (
        <Panel key={i} def={p} top={tops[i]} idx={i} />
      ))}
    </svg>
  );
}
